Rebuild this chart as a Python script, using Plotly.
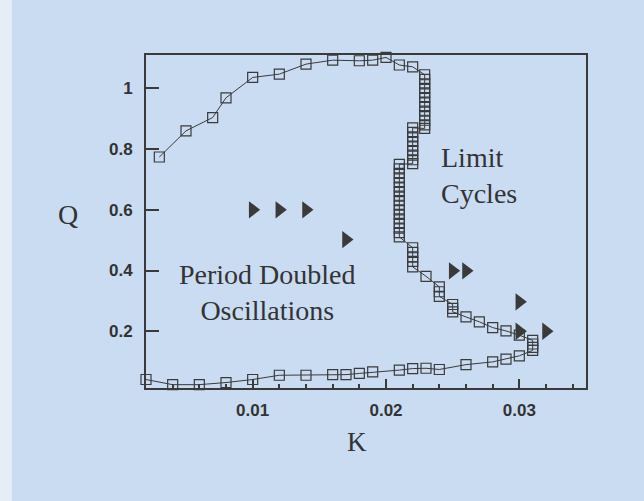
import plotly.graph_objects as go

# ---- data ----
# upper branch (K increasing)
K_upper = [0.003, 0.005, 0.007, 0.008, 0.010, 0.012, 0.014, 0.016, 0.018, 0.019, 0.020, 0.021, 0.022]
Q_upper = [0.774, 0.860, 0.904, 0.969, 1.036, 1.047, 1.080, 1.093, 1.091, 1.093, 1.102, 1.077, 1.071]

# vertical jump region (stacked points)
K_jump = [0.0229] * 13 + [0.022] * 9 + [0.021] * 17 + [0.022] * 5
Q_jump = [1.045, 1.030, 1.015, 1.000, 0.985, 0.970, 0.955, 0.940, 0.925, 0.910, 0.895, 0.880, 0.868,
          0.870, 0.855, 0.840, 0.825, 0.810, 0.795, 0.780, 0.765, 0.752,
          0.750, 0.735, 0.720, 0.705, 0.690, 0.675, 0.660, 0.645, 0.630, 0.615, 0.600, 0.585,
          0.570, 0.555, 0.540, 0.525, 0.511,
          0.475, 0.460, 0.445, 0.430, 0.412]

# descending branch
K_desc = [0.023, 0.024, 0.024, 0.024, 0.025, 0.025, 0.025, 0.026, 0.027, 0.028, 0.029, 0.030,
          0.031, 0.031, 0.031, 0.031]
Q_desc = [0.381, 0.346, 0.330, 0.315, 0.288, 0.275, 0.264, 0.247, 0.231, 0.212, 0.201, 0.187,
          0.170, 0.158, 0.147, 0.137]

# lower return branch (K decreasing)
K_lower = [0.030, 0.029, 0.028, 0.026, 0.024, 0.023, 0.022, 0.021, 0.019, 0.018, 0.017, 0.016,
           0.014, 0.012, 0.010, 0.008, 0.006, 0.004, 0.002]
Q_lower = [0.119, 0.108, 0.099, 0.090, 0.074, 0.078, 0.077, 0.072, 0.066, 0.061, 0.057, 0.057,
           0.055, 0.055, 0.041, 0.031, 0.024, 0.024, 0.041]

# period doubled oscillation points (triangles)
K_tri = [0.010, 0.012, 0.014, 0.017, 0.025, 0.026, 0.030, 0.030, 0.032]
Q_tri = [0.600, 0.600, 0.600, 0.502, 0.399, 0.399, 0.297, 0.200, 0.200]

x_tickvals = [0.01, 0.02, 0.03]
x_ticktext = ["0.01", "0.02", "0.03"]
y_tickvals = [0.2, 0.4, 0.6, 0.8, 1.0]
y_ticktext = ["0.2", "0.4", "0.6", "0.8", "1"]

BG = "#c9dcf1"
INK = "#3a3a3a"

K_all = K_upper + K_jump + K_desc + K_lower
Q_all = Q_upper + Q_jump + Q_desc + Q_lower

fig = go.Figure()
fig.add_trace(go.Scatter(
    x=K_all, y=Q_all, mode="lines+markers",
    line=dict(color=INK, width=1),
    marker=dict(symbol="square-open", size=10, color=INK, line=dict(width=1.2, color=INK)),
    cliponaxis=False, showlegend=False, hoverinfo="skip"))
fig.add_trace(go.Scatter(
    x=K_tri, y=Q_tri, mode="markers",
    marker=dict(symbol="triangle-right", size=15, color=INK),
    cliponaxis=False, showlegend=False, hoverinfo="skip"))

serif = "Liberation Serif, Times New Roman, serif"
sans = "Liberation Sans, Arial, sans-serif"

fig.update_layout(
    width=644, height=501,
    margin=dict(l=146, r=58, t=55, b=113),
    paper_bgcolor=BG, plot_bgcolor=BG,
    xaxis=dict(range=[0.002, 0.035], showgrid=False, zeroline=False,
               showline=True, linecolor=INK, linewidth=2, mirror=True,
               ticks="inside", ticklen=9, tickwidth=1.5, tickcolor=INK,
               tickvals=x_tickvals, ticktext=x_ticktext,
               tickfont=dict(family=sans, size=17, color="#333333", weight="bold"),
               ticklabelstandoff=6,
               minor=dict(dtick=0.002, tick0=0, ticks="inside", ticklen=4, tickwidth=1.5, tickcolor=INK)),
    yaxis=dict(range=[0.013, 1.11], showgrid=False, zeroline=False,
               showline=True, linecolor=INK, linewidth=2, mirror=True,
               ticks="inside", ticklen=13, tickwidth=1.5, tickcolor=INK,
               tickvals=y_tickvals, ticktext=y_ticktext,
               tickfont=dict(family=sans, size=17, color="#333333", weight="bold"),
               ticklabelstandoff=8),
    annotations=[
        dict(text="Q", xref="paper", yref="paper", x=-0.177, y=0.52, showarrow=False,
             font=dict(family=serif, size=28, color="#333333"), xanchor="center", yanchor="middle"),
        dict(text="K", xref="paper", yref="paper", x=0.48, y=-0.162, showarrow=False,
             font=dict(family=serif, size=27, color="#333333"), xanchor="center", yanchor="middle"),
        dict(text="Limit<br>Cycles", xref="x", yref="y", x=0.024, y=0.714, showarrow=False,
             align="left", xanchor="left", yanchor="middle",
             font=dict(family=serif, size=28, color="#333333")),
        dict(text="Period Doubled<br>Oscillations", xref="x", yref="y", x=0.01108, y=0.329,
             showarrow=False, align="center", xanchor="center", yanchor="middle",
             font=dict(family=serif, size=28, color="#333333")),
    ],
    shapes=[dict(type="rect", xref="paper", yref="paper", x0=-0.332, x1=-0.305, y0=-0.34, y1=1.17,
                 fillcolor="#e6edf6", line=dict(width=0), layer="below")],
)

fig.write_html("out.html", config={"displayModeBar": False},
               post_script="document.body.style.margin='0';")
